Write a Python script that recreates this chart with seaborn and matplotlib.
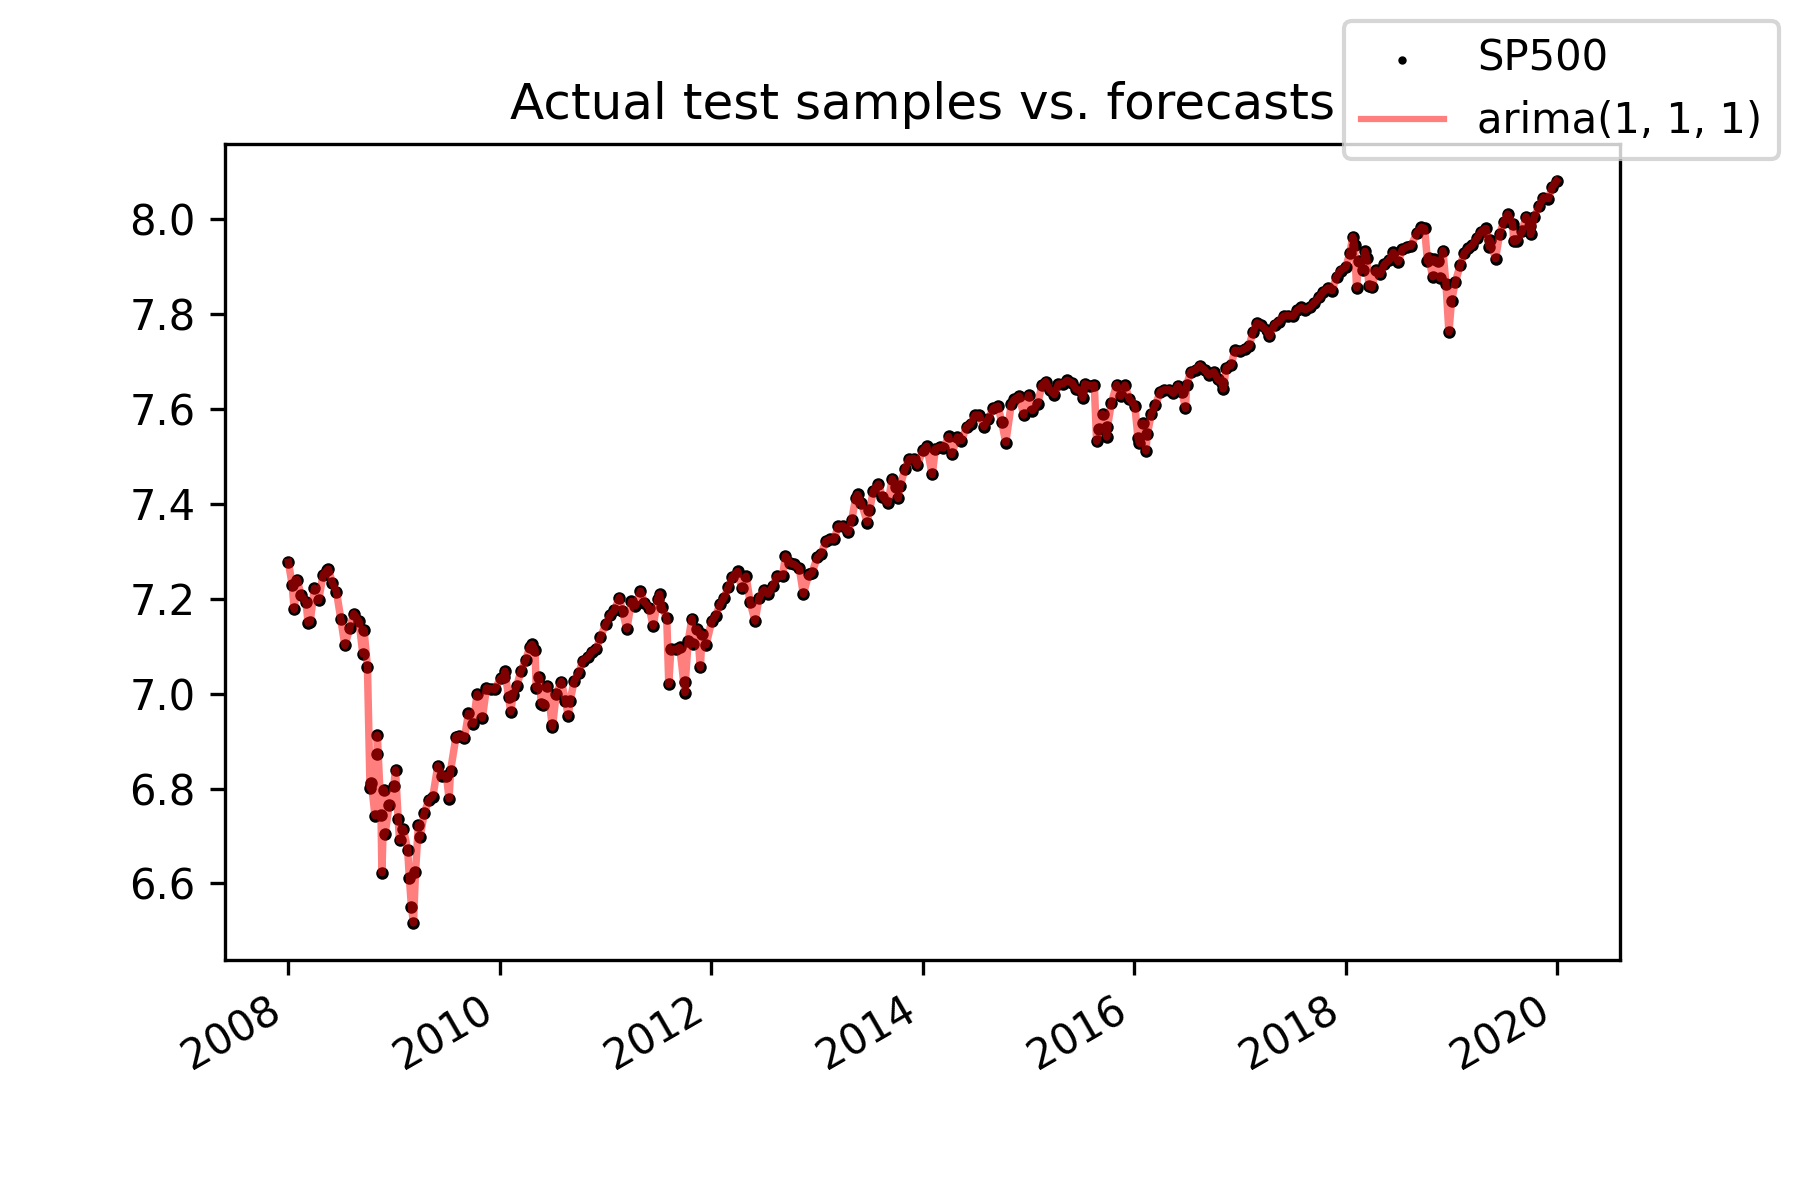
import numpy as np
import pandas as pd
import matplotlib
matplotlib.use("Agg")
import matplotlib.pyplot as plt
import seaborn as sns

# S&P 500 closes (plotted as log values)
fechas = [
    "2008-01-02", "2008-01-15", "2008-01-22", "2008-02-01", "2008-02-15", "2008-03-03", "2008-03-10",
    "2008-03-17", "2008-04-01", "2008-04-15", "2008-05-01", "2008-05-15", "2008-05-19", "2008-06-02",
    "2008-06-16", "2008-07-01", "2008-07-15", "2008-08-01", "2008-08-15", "2008-09-02", "2008-09-15",
    "2008-09-19", "2008-10-01", "2008-10-10", "2008-10-15", "2008-10-27", "2008-11-03", "2008-11-04",
    "2008-11-17", "2008-11-20", "2008-11-28", "2008-12-01", "2008-12-15", "2008-12-31",
    "2009-01-06", "2009-01-15", "2009-01-20", "2009-02-02", "2009-02-17", "2009-02-23", "2009-03-02",
    "2009-03-09", "2009-03-16", "2009-03-26", "2009-04-01", "2009-04-15", "2009-05-01", "2009-05-15",
    "2009-06-01", "2009-06-15", "2009-07-01", "2009-07-10", "2009-07-15", "2009-08-03", "2009-08-14",
    "2009-09-01", "2009-09-15", "2009-10-01", "2009-10-15", "2009-11-02", "2009-11-16", "2009-12-01",
    "2009-12-15",
    "2010-01-04", "2010-01-15", "2010-01-19", "2010-02-01", "2010-02-08", "2010-02-16", "2010-03-01",
    "2010-03-15", "2010-04-01", "2010-04-15", "2010-04-23", "2010-05-03", "2010-05-07", "2010-05-17",
    "2010-05-25", "2010-06-01", "2010-06-15", "2010-07-01", "2010-07-02", "2010-07-15", "2010-08-02",
    "2010-08-16", "2010-08-26", "2010-09-01", "2010-09-15", "2010-10-01", "2010-10-15", "2010-11-01",
    "2010-11-15", "2010-12-01", "2010-12-15",
    "2011-01-03", "2011-01-18", "2011-02-01", "2011-02-18", "2011-03-01", "2011-03-16", "2011-04-01",
    "2011-04-15", "2011-05-02", "2011-05-16", "2011-06-01", "2011-06-15", "2011-07-01", "2011-07-07",
    "2011-07-15", "2011-08-01", "2011-08-08", "2011-08-15", "2011-09-01", "2011-09-15", "2011-10-03",
    "2011-10-04", "2011-10-14", "2011-10-27", "2011-11-01", "2011-11-15", "2011-11-25", "2011-12-01",
    "2011-12-15",
    "2012-01-03", "2012-01-17", "2012-02-01", "2012-02-15", "2012-03-01", "2012-03-15", "2012-04-02",
    "2012-04-16", "2012-05-01", "2012-05-15", "2012-06-01", "2012-06-15", "2012-07-02", "2012-07-16",
    "2012-08-01", "2012-08-15", "2012-09-04", "2012-09-14", "2012-10-01", "2012-10-15", "2012-11-01",
    "2012-11-15", "2012-12-03", "2012-12-14",
    "2013-01-02", "2013-01-15", "2013-02-01", "2013-02-15", "2013-03-01", "2013-03-15", "2013-04-01",
    "2013-04-18", "2013-05-01", "2013-05-15", "2013-05-21", "2013-06-03", "2013-06-24", "2013-07-01",
    "2013-07-15", "2013-08-01", "2013-08-15", "2013-09-03", "2013-09-18", "2013-10-01", "2013-10-08",
    "2013-10-15", "2013-11-01", "2013-11-15", "2013-12-02", "2013-12-13",
    "2014-01-02", "2014-01-15", "2014-02-03", "2014-02-14", "2014-03-03", "2014-03-14", "2014-04-01",
    "2014-04-11", "2014-05-01", "2014-05-15", "2014-06-02", "2014-06-16", "2014-07-01", "2014-07-15",
    "2014-08-01", "2014-08-15", "2014-09-02", "2014-09-18", "2014-10-01", "2014-10-15", "2014-11-03",
    "2014-11-14", "2014-12-01", "2014-12-16",
    "2015-01-02", "2015-01-15", "2015-02-02", "2015-02-17", "2015-03-02", "2015-03-16", "2015-04-01",
    "2015-04-15", "2015-05-01", "2015-05-15", "2015-06-01", "2015-06-15", "2015-07-01", "2015-07-08",
    "2015-07-15", "2015-08-03", "2015-08-17", "2015-08-25", "2015-09-01", "2015-09-15", "2015-09-29",
    "2015-10-01", "2015-10-15", "2015-11-02", "2015-11-16", "2015-12-01", "2015-12-15",
    "2016-01-04", "2016-01-15", "2016-01-20", "2016-02-01", "2016-02-11", "2016-02-16", "2016-03-01",
    "2016-03-15", "2016-04-01", "2016-04-15", "2016-05-02", "2016-05-16", "2016-06-01", "2016-06-15",
    "2016-06-27", "2016-07-01", "2016-07-15", "2016-08-01", "2016-08-15", "2016-09-01", "2016-09-15",
    "2016-10-03", "2016-10-17", "2016-11-01", "2016-11-04", "2016-11-15", "2016-12-01", "2016-12-15",
    "2017-01-03", "2017-01-17", "2017-02-01", "2017-02-15", "2017-03-01", "2017-03-15", "2017-04-03",
    "2017-04-13", "2017-05-01", "2017-05-15", "2017-06-01", "2017-06-15", "2017-07-03", "2017-07-17",
    "2017-08-01", "2017-08-15", "2017-09-01", "2017-09-15", "2017-10-02", "2017-10-16", "2017-11-01",
    "2017-11-15", "2017-12-01", "2017-12-15",
    "2018-01-02", "2018-01-16", "2018-01-26", "2018-02-01", "2018-02-08", "2018-02-15", "2018-03-01",
    "2018-03-09", "2018-03-15", "2018-03-23", "2018-04-02", "2018-04-16", "2018-05-01", "2018-05-15",
    "2018-06-01", "2018-06-15", "2018-07-02", "2018-07-16", "2018-08-01", "2018-08-15", "2018-09-04",
    "2018-09-20", "2018-10-01", "2018-10-11", "2018-10-15", "2018-10-29", "2018-11-01", "2018-11-15",
    "2018-11-23", "2018-12-03", "2018-12-14", "2018-12-24",
    "2019-01-02", "2019-01-15", "2019-02-01", "2019-02-15", "2019-03-01", "2019-03-15", "2019-04-01",
    "2019-04-15", "2019-05-01", "2019-05-13", "2019-05-15", "2019-06-03", "2019-06-17", "2019-07-01",
    "2019-07-15", "2019-08-01", "2019-08-05", "2019-08-15", "2019-09-03", "2019-09-16", "2019-10-01",
    "2019-10-02", "2019-10-15", "2019-11-01", "2019-11-15", "2019-12-02", "2019-12-16", "2019-12-31",
]

cierres = [
    1447, 1380, 1310, 1395, 1349, 1331, 1273,
    1276, 1370, 1335, 1409, 1423, 1426, 1385,
    1360, 1284, 1214, 1260, 1298, 1277, 1193,
    1255, 1161, 899, 908, 848, 966, 1005,
    850, 752, 896, 816, 868, 903,
    934, 843, 805, 825, 789, 743, 700,
    676.5, 753, 832, 811, 852, 877, 883,
    942, 923, 923, 879, 932, 1002, 1004,
    998, 1052, 1029, 1096, 1042, 1110, 1108,
    1107,
    1133, 1136, 1150, 1089, 1056, 1094, 1115,
    1150, 1178, 1211, 1217, 1202, 1110, 1136,
    1074, 1070, 1115, 1027, 1022, 1096, 1125,
    1080, 1047, 1080, 1126, 1146, 1176, 1184,
    1198, 1206, 1236,
    1271, 1295, 1307, 1343, 1306, 1257, 1332,
    1320, 1361, 1329, 1315, 1265, 1340, 1353,
    1316, 1287, 1119, 1204, 1204, 1209, 1099,
    1123, 1225, 1285, 1218, 1257, 1159, 1244,
    1216,
    1277, 1293, 1324, 1343, 1374, 1403, 1419,
    1369, 1405, 1330, 1278, 1343, 1365, 1353,
    1375, 1405, 1405, 1466, 1444, 1440, 1428,
    1353, 1410, 1413,
    1462, 1473, 1513, 1519, 1518, 1561, 1562,
    1541, 1582, 1658, 1669, 1640, 1573, 1614,
    1682, 1706, 1661, 1639, 1725, 1695, 1655,
    1698, 1762, 1798, 1800, 1775,
    1832, 1848, 1741, 1838, 1845, 1841, 1886,
    1816, 1884, 1870, 1925, 1937, 1973, 1973,
    1925, 1955, 2002, 2011, 1946, 1862, 2018,
    2039, 2054, 1973,
    2058, 1992, 2021, 2100, 2117, 2081, 2060,
    2106, 2108, 2123, 2112, 2084, 2077, 2046,
    2107, 2098, 2102, 1867, 1914, 1978, 1884,
    1923, 2023, 2104, 2053, 2102, 2043,
    2013, 1880, 1859, 1940, 1829, 1895, 1978,
    2015, 2073, 2081, 2081, 2066, 2099, 2072,
    2001, 2103, 2162, 2171, 2190, 2171, 2147,
    2161, 2127, 2111, 2085, 2180, 2191, 2262,
    2258, 2268, 2280, 2350, 2396, 2385, 2359,
    2329, 2388, 2402, 2431, 2433, 2430, 2460,
    2476, 2464, 2477, 2500, 2529, 2558, 2579,
    2565, 2642, 2676,
    2696, 2777, 2873, 2822, 2581, 2731, 2678,
    2786, 2748, 2588, 2582, 2678, 2655, 2711,
    2735, 2780, 2726, 2798, 2813, 2818, 2896,
    2931, 2924, 2729, 2750, 2641, 2740, 2730,
    2633, 2790, 2600, 2351,
    2510, 2610, 2707, 2776, 2804, 2822, 2867,
    2905, 2924, 2812, 2851, 2744, 2889, 2964,
    3014, 2953, 2845, 2848, 2906, 2998, 2940,
    2888, 2996, 3067, 3120, 3114, 3191, 3231,
]

etiqueta_real = "SP500"
etiqueta_modelo = "arima(1, 1, 1)"
titulo = "Actual test samples vs. forecasts"


def main():
    df = pd.DataFrame({"fecha": pd.to_datetime(fechas), "sp500": np.log(cierres)})

    fig, ax = plt.subplots(figsize=(6, 4), dpi=300)
    # puntos algo mas grandes para que la banda se vea densa como en el original
    sns.scatterplot(data=df, x="fecha", y="sp500", s=9, color="black",
                    linewidth=0, label=etiqueta_real, ax=ax)
    sns.lineplot(data=df, x="fecha", y="sp500", color="red", alpha=0.5,
                 linewidth=1.8, label=etiqueta_modelo, ax=ax)
    ax.set_xlabel("")
    ax.set_ylabel("")
    ax.set_title(titulo)
    ax.get_legend().remove()
    leg = fig.legend(loc="upper right", markerscale=0.67)
    leg.get_lines()[0].set_linewidth(1.5) if leg.get_lines() else None
    fig.autofmt_xdate()
    fig.savefig("out.png")
    plt.close(fig)


if __name__ == "__main__":
    main()
